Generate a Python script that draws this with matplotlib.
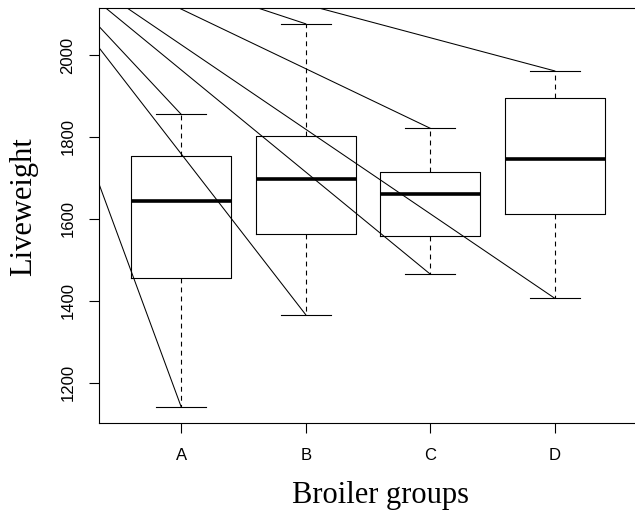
import matplotlib

matplotlib.use("Agg")
import matplotlib.pyplot as plt

# boxplot summary
groups = ["A", "B", "C", "D"]
whisker_low = [1141, 1366, 1465, 1406]
q1 = [1456, 1563, 1558, 1613]
median = [1644, 1697, 1660, 1746]
q3 = [1754, 1802, 1715, 1896]
whisker_high = [1855, 2076, 1821, 1961]

# point outside the plot region that all the stray segments come from
origin_x = -0.43
origin_y = 2320

plt.rcParams["font.family"] = ["Liberation Sans", "DejaVu Sans"]
plt.rcParams["lines.scale_dashes"] = False

fig = plt.figure(figsize=(6.35, 5.11), dpi=100)
ax = fig.add_axes([99 / 635, 88 / 511, 538 / 635, 415 / 511])

stats = []
for i, name in enumerate(groups):
    stats.append(
        {
            "label": name,
            "whislo": whisker_low[i],
            "q1": q1[i],
            "med": median[i],
            "q3": q3[i],
            "whishi": whisker_high[i],
            "fliers": [],
        }
    )

positions = list(range(1, len(groups) + 1))
ax.bxp(
    stats,
    positions=positions,
    widths=0.8,
    capwidths=0.4,
    showfliers=False,
    boxprops={"color": "black", "linewidth": 0.8},
    medianprops={"color": "black", "linewidth": 2.6, "solid_capstyle": "butt"},
    whiskerprops={"color": "black", "linewidth": 0.8, "linestyle": (0, (3.5, 3))},
    capprops={"color": "black", "linewidth": 0.8},
)

# stray segments from a common point to every whisker end
for pos, lo, hi in zip(positions, whisker_low, whisker_high):
    ax.plot([origin_x, pos], [origin_y, hi], color="black", linewidth=0.75)
    ax.plot([origin_x, pos], [origin_y, lo], color="black", linewidth=0.75)

ax.set_xlim(0.34, 4.66)
ax.set_ylim(1101.7, 2114.6)
ax.set_yticks([1200, 1400, 1600, 1800, 2000])
ax.set_xticks(positions)
ax.set_xticklabels(groups)
for label in ax.get_yticklabels():
    label.set_rotation(90)
    label.set_va("center")

ax.tick_params(axis="both", direction="out", length=7, width=0.8, labelsize=12)
ax.tick_params(axis="y", pad=10)
ax.tick_params(axis="x", pad=11)
ax.spines["right"].set_visible(False)
for side in ["left", "bottom", "top"]:
    ax.spines[side].set_linewidth(0.8)

fig.text(380 / 635, 1 - 503 / 511, "Broiler groups", family="Liberation Serif",
         fontsize=22, ha="center", va="baseline")
fig.text(24 / 635, 1 - 207 / 511, "Liveweight", family="Liberation Serif",
         fontsize=22, ha="center", va="center", rotation=90)

fig.savefig("out.png", dpi=100)
